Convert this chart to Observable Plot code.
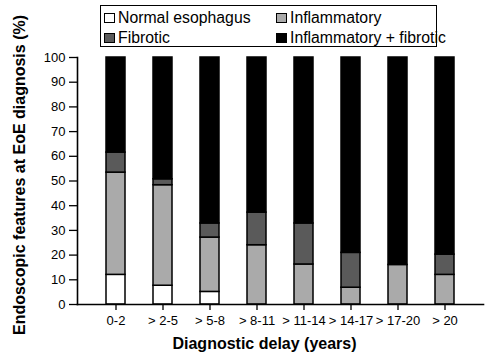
<!DOCTYPE html>
<html>
<head>
<meta charset="utf-8">
<script src="https://cdn.jsdelivr.net/npm/d3@7"></script>
<script src="https://cdn.jsdelivr.net/npm/@observablehq/plot@0.6"></script>
<style>
  html, body { margin: 0; padding: 0; background: #fff; }
  #wrap { position: relative; width: 489px; height: 361px; font-family: "Liberation Sans", Arial, sans-serif; }
  #legend { position: absolute; left: 100px; top: 5px; width: 337px; height: 42px; border: 1.3px solid #000; box-sizing: border-box; font-size: 15.8px; color: #000; }
  .item { position: absolute; display: flex; align-items: center; white-space: nowrap; line-height: 1; }
  .sw { width: 9px; height: 8px; border: 1.3px solid #000; margin-right: 3px; box-sizing: content-box; }
</style>
</head>
<body>
<div id="wrap">
  <div id="chart"></div>
  <div id="legend"></div>
</div>
<script>
const categories = ["0-2", "> 2-5", "> 5-8", "> 8-11", "> 11-14", "> 14-17", "> 17-20", "> 20"];
const seriesNames = ["Normal esophagus", "Inflammatory", "Fibrotic", "Inflammatory + fibrotic"];
const seriesColors = ["#ffffff", "#aaaaaa", "#5a5a5a", "#000000"];
const normal = [12, 7.6, 5.1, 0, 0, 0, 0, 0];
const inflammatory = [41.4, 40.7, 22.0, 24.0, 16.2, 6.8, 16.0, 12.0];
const fibrotic = [8.1, 2.4, 5.7, 13.2, 16.6, 14.1, 0, 8.2];
const yTicks = [0, 10, 20, 30, 40, 50, 60, 70, 80, 90, 100];

const parts = [normal, inflammatory, fibrotic];
const data = [];
categories.forEach((c, i) => {
  let sum = 0;
  parts.forEach((arr, k) => { data.push({cat: c, series: seriesNames[k], value: arr[i]}); sum += arr[i]; });
  data.push({cat: c, series: seriesNames[3], value: 100 - sum});
});

const chart = Plot.plot({
  width: 489,
  height: 361,
  marginLeft: 77,
  marginRight: 6,
  marginTop: 57,
  marginBottom: 57,
  style: {fontFamily: "Liberation Sans, Arial, sans-serif", fontSize: "13px", color: "#000", background: "#fff"},
  x: {domain: categories, padding: 0.6, align: 0.5, label: null},
  y: {domain: [0, 100], ticks: yTicks, label: null},
  color: {domain: seriesNames, range: seriesColors},
  marks: [
    Plot.barY(data.filter(d => d.value > 0.01), Plot.stackY({order: seriesNames}, {
      x: "cat", y: "value", fill: "series", stroke: "#000", strokeWidth: 1.5, z: "series"
    })),
    Plot.axisX({tickSize: 6, tickPadding: 5, stroke: "#000", strokeWidth: 1.3, fontSize: 13}),
    Plot.axisY({ticks: yTicks, tickSize: 8, tickPadding: 4, strokeWidth: 1.3, fontSize: 13}),
    Plot.frame({anchor: "bottom", strokeWidth: 1.6}),
    Plot.frame({anchor: "left", strokeWidth: 1.6}),
    Plot.text(["Diagnostic delay (years)"], {frameAnchor: "bottom", dx: -16, dy: 44, fontWeight: "bold", fontSize: 16, textAnchor: "middle"}),
    Plot.text(["Endoscopic features at EoE diagnosis (%)"], {frameAnchor: "left", dx: -58, dy: -6, rotate: -90, textAnchor: "middle", fontWeight: "bold", fontSize: 16})
  ]
});
document.getElementById("chart").appendChild(chart);

const legend = document.getElementById("legend");
const pos = [[3, 4], [175, 4], [3, 24], [175, 24]];
seriesNames.forEach((n, i) => {
  const it = document.createElement("div");
  it.className = "item";
  it.style.left = pos[i][0] + "px";
  it.style.top = pos[i][1] + "px";
  const sw = document.createElement("span");
  sw.className = "sw";
  sw.style.background = seriesColors[i];
  const t = document.createElement("span");
  t.textContent = n;
  it.appendChild(sw); it.appendChild(t);
  legend.appendChild(it);
});
</script>
</body>
</html>
